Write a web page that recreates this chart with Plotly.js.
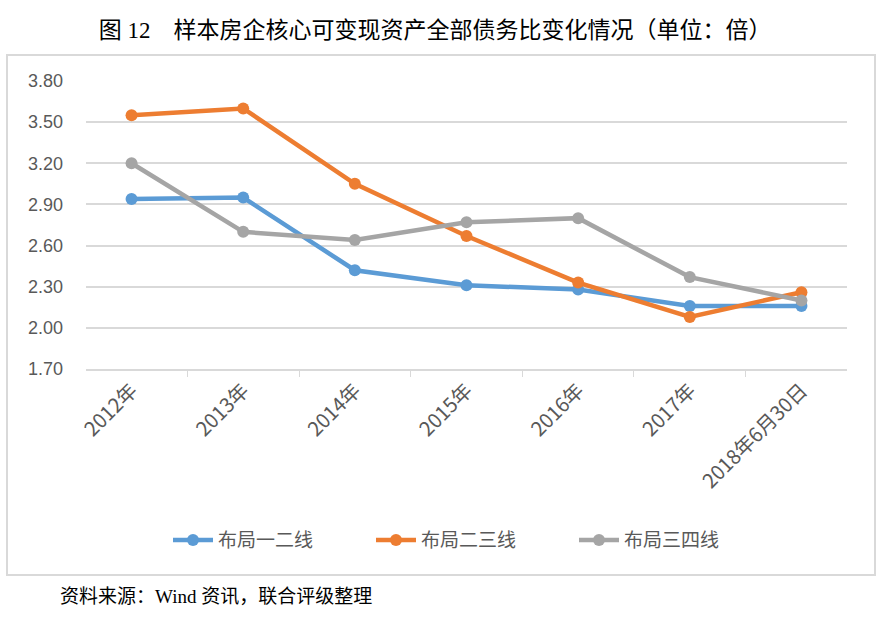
<!DOCTYPE html>
<html><head><meta charset="utf-8">
<script src="https://cdn.plot.ly/plotly-3.0.1.min.js"></script>
<style>body{margin:0;background:#fff}#chart{width:882px;height:619px}</style>
</head><body><div id="chart"></div>
<script>
const categories = ["2012年","2013年","2014年","2015年","2016年","2017年","2018年6月30日"];
const tier12 = [2.94, 2.95, 2.42, 2.31, 2.28, 2.16, 2.16];
const tier23 = [3.55, 3.60, 3.05, 2.67, 2.33, 2.08, 2.26];
const tier34 = [3.20, 2.70, 2.64, 2.77, 2.80, 2.37, 2.20];
const seriesNames = ["布局一二线","布局二三线","布局三四线"];
const yTicks = [1.70, 2.00, 2.30, 2.60, 2.90, 3.20, 3.50, 3.80];

const colors = ["#5B9BD5","#ED7D31","#A5A5A5"];
const data = [tier12, tier23, tier34].map((vals, i) => ({
  type: "scatter", mode: "lines+markers", x: categories, y: vals, name: seriesNames[i],
  line: {color: colors[i], width: 4.5}, marker: {color: colors[i], size: 12}
}));

const cjk = "'Noto Sans CJK SC', 'Noto Sans', sans-serif";
const serif = "'Liberation Serif', 'Noto Sans CJK SC', serif";
const layout = {
  width: 882, height: 619,
  margin: {l: 86, r: 35, t: 81, b: 250},
  paper_bgcolor: "#fff", plot_bgcolor: "#fff",
  showlegend: true,
  legend: {orientation: "h", x: (168-86)/761, xanchor: "left", y: -0.594, yanchor: "middle",
    font: {family: cjk, size: 19, color: "#595959"}, entrywidth: 148, entrywidthmode: "pixels",
    itemwidth: 40, tracegroupgap: 0},
  title: {text: "图 12　样本房企核心可变现资产全部债务比变化情况（单位：倍）",
    font: {family: serif, size: 23, color: "#000"}, x: (435-86)/761, xref: "paper", xanchor: "center",
    y: 1 - 30/619, yref: "container", yanchor: "middle"},
  xaxis: {type: "category", tickangle: -45, tickson: "boundaries", ticks: "outside", ticklen: 6,
    tickcolor: "#d9d9d9", showline: true, linecolor: "#d9d9d9", linewidth: 2, showgrid: false,
    tickfont: {family: cjk, size: 20, color: "#595959"}, fixedrange: true},
  yaxis: {range: [1.70, 3.80], tickvals: yTicks, ticktext: yTicks.map(v => v.toFixed(2)),
    showgrid: true, gridcolor: "#d9d9d9", gridwidth: 2, zeroline: false, showline: false,
    tickfont: {family: "'Liberation Sans', 'Noto Sans', sans-serif", size: 18, color: "#595959"},
    ticklabelstandoff: 22, fixedrange: true},
  shapes: [{type: "rect", xref: "paper", yref: "paper",
    x0: (7-86)/761, x1: (875-86)/761, y0: (369-575)/288, y1: (369-55)/288,
    line: {color: "#d9d9d9", width: 2}, fillcolor: "rgba(0,0,0,0)", layer: "below"}],
  annotations: [{text: "资料来源：Wind 资讯，联合评级整理", xref: "paper", yref: "paper",
    x: (58-86)/761, xanchor: "left", y: (369-596)/288, yanchor: "middle", showarrow: false,
    font: {family: serif, size: 19, color: "#000"}}]
};
Plotly.newPlot("chart", data, layout, {displayModeBar: false, staticPlot: true});
</script></body></html>
